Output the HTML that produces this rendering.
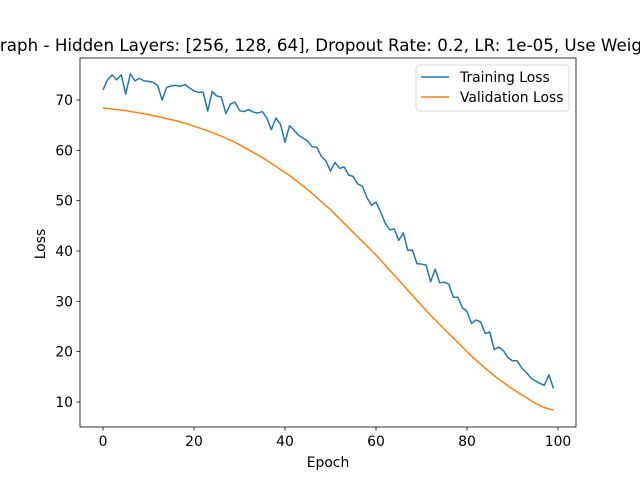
<!DOCTYPE html>
<html><head><meta charset="utf-8"><style>body{margin:0;background:#fff}svg{display:block;font-family:"DejaVu Sans","Liberation Sans",sans-serif}</style></head>
<body>
<svg id="chart" width="640" height="480">
<rect width="640" height="480" fill="#fff"/>
<text x="-13" y="51" font-size="16.7">Graph - Hidden Layers: [256, 128, 64], Dropout Rate: 0.2, LR: 1e-05, Use Weight Decay: True</text>
<g id="plot"></g>
<rect x="80" y="58" width="496" height="369" fill="none" stroke="#000" stroke-width="0.8"/>
<text x="328" y="467" font-size="13.9" text-anchor="middle">Epoch</text>
<text x="45" y="244" font-size="13.9" text-anchor="middle" transform="rotate(-90 45 244)">Loss</text>
<g>
<rect x="416" y="65" width="153" height="46" rx="3" fill="#fff" stroke="#ccc" stroke-width="0.8"/>
<line x1="421" y1="77" x2="449" y2="77" stroke="#1f77b4" stroke-width="1.5"/>
<text x="460" y="82" font-size="13.9">Training Loss</text>
<line x1="421" y1="97" x2="449" y2="97" stroke="#ff7f0e" stroke-width="1.5"/>
<text x="460" y="102" font-size="13.9">Validation Loss</text>
</g>
</svg>
<script>
const xTicks=[0,20,40,60,80,100];
const yTicks=[10,20,30,40,50,60,70];
const trainLoss=[72,74,75,74,75,71.2,75.2,73.8,74.3,73.8,73.7,73.5,72.9,70,72.5,72.8,72.9,72.7,73.1,72.4,71.8,71.5,71.6,67.8,71.7,70.8,70.6,67.3,69.2,69.6,67.9,67.7,68.1,67.6,67.4,67.7,66.4,64.1,66.4,65.2,61.6,64.9,64,63,62.4,61.8,60.7,60.6,58.8,57.9,55.9,57.6,56.4,56.7,55.1,54.8,53.3,52.9,50.6,49.1,49.7,47.8,45.6,44.2,44.4,42.1,43.6,40.1,40.2,37.5,37.4,37.2,33.9,36.4,33.7,33.8,33.4,30.8,30.8,28.7,28,25.6,26.3,25.9,23.6,23.9,20.4,20.9,20.2,18.8,18.2,18.2,16.8,15.9,14.8,14.2,13.7,13.3,15.4,12.7];
const valLoss=[68.4,68.3,68.2,68.1,68.0,67.9,67.7,67.6,67.4,67.3,67.1,66.9,66.7,66.5,66.3,66.1,65.9,65.6,65.4,65.1,64.8,64.5,64.2,63.9,63.5,63.2,62.8,62.4,62.0,61.6,61.1,60.6,60.1,59.6,59.1,58.6,58.0,57.4,56.8,56.2,55.6,55.0,54.3,53.6,52.9,52.2,51.4,50.6,49.8,49.0,48.2,47.3,46.4,45.5,44.6,43.7,42.8,41.9,41.0,40.1,39.2,38.2,37.2,36.2,35.2,34.2,33.2,32.2,31.2,30.2,29.2,28.2,27.2,26.3,25.4,24.5,23.6,22.7,21.8,20.9,20.0,19.1,18.3,17.5,16.7,16.0,15.2,14.5,13.9,13.2,12.6,12.0,11.4,10.9,10.3,9.8,9.3,8.9,8.6,8.4];
const NS="http://www.w3.org/2000/svg";
const sx=v=>103+v*4.55;
const sy=v=>100+(70-v)*5.033;
const g=document.getElementById('plot');
function mk(t,a){const e=document.createElementNS(NS,t);for(const k in a)e.setAttribute(k,a[k]);return e;}
xTicks.forEach(t=>{
 const l=mk('line',{x1:sx(t),x2:sx(t),y1:427,y2:430.5,stroke:'#000','stroke-width':0.8});
 
 
 g.appendChild(l);
 const tx=mk('text',{x:sx(t),y:446,'font-size':13.9,'text-anchor':'middle'});
 tx.textContent=t;
 
 
 g.appendChild(tx);
});
yTicks.forEach(t=>{
 const l=mk('line',{x1:76.5,x2:80,y1:sy(t),y2:sy(t),stroke:'#000','stroke-width':0.8});
 
 
 g.appendChild(l);
 const tx=mk('text',{x:73,y:sy(t)+5,'font-size':13.9,'text-anchor':'end'});
 tx.textContent=t;
 
 
 g.appendChild(tx);
});
function line(d,c,n){
 const p=mk('polyline',{points:d.map((v,i)=>sx(i)+','+sy(v)).join(' '),fill:'none',stroke:c,'stroke-width':1.5,'stroke-linejoin':'round'});
 
 
 g.appendChild(p);
}
line(trainLoss,'#1f77b4','training-loss-line');
line(valLoss,'#ff7f0e','validation-loss-line');
</script>
</body></html>
